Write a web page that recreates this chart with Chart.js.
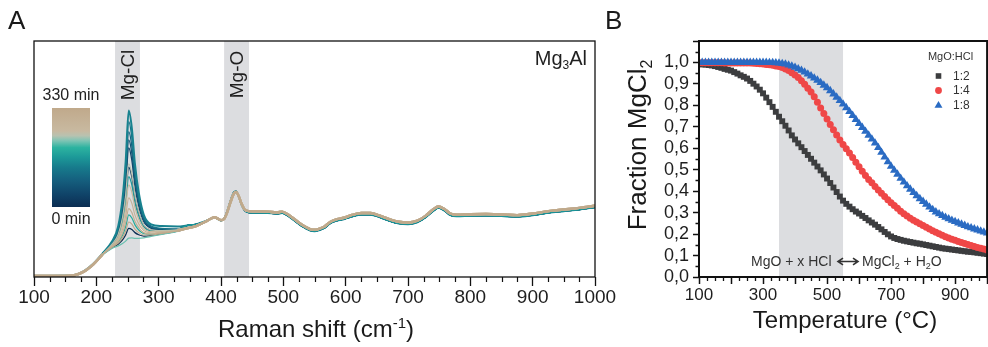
<!DOCTYPE html>
<html>
<head>
<meta charset="utf-8">
<script src="https://cdn.jsdelivr.net/npm/chart.js@4.4.1/dist/chart.umd.min.js"></script>
<style>
  html, body { margin: 0; padding: 0; background: #fff; overflow: hidden; width: 988px; height: 347px; }
  #wrapA { position: absolute; left: 0; top: 0; width: 620px; height: 347px; }
  #wrapB { position: absolute; left: 600px; top: 0; width: 392px; height: 347px; }
</style>
</head>
<body>
<div id="wrapA"><canvas id="ramanChart" width="620" height="347"></canvas></div>
<div id="wrapB"><canvas id="fractionChart" width="392" height="347"></canvas></div>
<script>
// ---------- Panel A: in-situ Raman spectra of Mg3Al ----------
// Raman shift grid (cm-1): detailed around the Mg-Cl band, then the shared part of the spectrum
const ramanHeadShift = [100, 160, 180, 195, 210, 225, 235, 242, 247, 252, 257, 262, 268, 276, 288, 305, 330];
const ramanTailShift = [345, 360, 375, 385, 390, 395, 400, 405, 410, 415, 420, 424, 428, 433, 438, 445, 460, 475, 490, 498,
  505, 515, 530, 543, 550, 558, 566, 575, 586, 597, 610, 625, 640, 655, 670, 685, 700, 715, 728, 740,
  749, 758, 768, 778, 800, 825, 850, 875, 900, 925, 950, 975, 1000];

// intensity (a.u.) above 340 cm-1: later spectra and early spectra
const tailLate = [20.6, 21.6, 23.4, 24.9, 25.3, 24.7, 24.1, 24.6, 27.5, 31.5, 35.0, 36.0, 34.5, 31.0, 28.6, 27.9, 27.8, 27.7, 27.4, 27.7,
  26.9, 25.1, 22.1, 20.3, 20.0, 20.5, 21.4, 23.3, 24.5, 25.1, 26.3, 27.1, 27.1, 26.0, 24.5, 23.4, 23.1, 23.9, 25.9, 28.6,
  29.9, 28.9, 26.9, 26.4, 26.6, 26.7, 26.5, 26.2, 26.9, 27.9, 28.6, 29.3, 30.2];
const tailEarly = [21.8, 22.3, 23.6, 24.8, 25.2, 24.5, 23.9, 24.7, 27.9, 32.0, 35.6, 36.3, 34.4, 30.6, 28.2, 27.3, 27.2, 27.1, 26.8, 27.1,
  26.3, 24.5, 21.5, 19.7, 19.4, 19.9, 20.8, 22.7, 23.9, 24.5, 25.6, 26.4, 26.4, 25.3, 23.8, 22.7, 22.4, 23.2, 25.2, 27.9,
  29.3, 28.2, 26.2, 25.7, 25.9, 26.0, 25.8, 25.5, 26.2, 27.2, 27.9, 28.6, 29.5];

// intensity (a.u.) from 100 to 330 cm-1, one array per acquisition time
const spectrum0min   = [0.4, 0.6, 2.3, 5.3, 9.5, 12.4, 13.9, 15.7, 17.8, 20.6, 20.1, 18.8, 17.9, 17.3, 17.6, 18.3, 19.4];
const spectrum20min  = [0.4, 0.6, 2.3, 5.3, 9.7, 13.7, 17.8, 24.8, 33.9, 46.5, 42.4, 33.8, 27.2, 22.0, 19.9, 19.6, 19.9];
const spectrum45min  = [0.4, 0.6, 2.3, 5.4, 9.8, 14.1, 19.1, 27.6, 38.9, 54.7, 49.4, 38.5, 30.1, 23.5, 20.6, 20.0, 20.1];
const spectrum70min  = [0.4, 0.6, 2.3, 5.4, 9.8, 14.3, 19.6, 28.8, 41.1, 58.1, 52.4, 40.5, 31.4, 24.1, 20.9, 20.2, 20.2];
const spectrum95min  = [0.4, 0.6, 2.4, 5.5, 9.9, 14.5, 20.1, 30.1, 43.2, 61.6, 55.4, 42.5, 32.6, 24.7, 21.3, 20.4, 20.3];
const spectrum120min = [0.4, 0.6, 2.4, 5.5, 9.9, 14.7, 20.7, 31.5, 45.8, 65.8, 59.0, 45.0, 34.1, 25.5, 21.6, 20.6, 20.3];
const spectrum140min = [0.5, 0.7, 2.5, 5.6, 10.0, 15.0, 21.4, 33.2, 48.7, 70.5, 63.0, 47.7, 35.8, 26.5, 22.3, 21.6, 21.4];
const spectrum165min = [0.4, 0.6, 2.3, 5.3, 9.7, 13.5, 17.2, 23.4, 31.4, 42.5, 39.0, 31.5, 25.8, 21.3, 19.5, 19.4, 19.9];
const spectrum190min = [0.4, 0.6, 2.3, 5.3, 9.5, 12.7, 14.8, 17.7, 21.3, 26.3, 25.0, 22.1, 19.9, 18.4, 18.1, 18.6, 19.5];
const spectrum215min = [0.3, 0.5, 2.2, 5.2, 9.3, 12.1, 13.2, 14.2, 15.2, 16.5, 16.6, 16.4, 16.4, 16.6, 17.2, 18.1, 19.3];
const spectrum240min = [0.4, 0.6, 2.3, 5.3, 9.7, 13.8, 18.0, 25.3, 34.7, 47.9, 43.6, 34.6, 27.7, 22.2, 20.0, 19.7, 20.0];
const spectrum260min = [0.4, 0.6, 2.3, 5.3, 9.6, 13.3, 16.7, 22.1, 29.2, 39.0, 35.9, 29.4, 24.5, 20.6, 19.2, 19.2, 19.8];
const spectrum285min = [0.4, 0.6, 2.3, 5.3, 9.6, 13.1, 15.9, 20.2, 25.8, 33.5, 31.2, 26.2, 22.5, 19.7, 18.7, 19.0, 19.7];
const spectrum305min = [0.4, 0.6, 2.3, 5.3, 9.5, 12.8, 15.2, 18.6, 23.0, 29.0, 27.3, 23.6, 20.9, 18.8, 18.3, 18.7, 19.6];
const spectrum330min = [0.4, 0.6, 2.3, 5.3, 9.5, 12.6, 14.4, 16.7, 19.5, 23.3, 22.4, 20.3, 18.8, 17.8, 17.8, 18.5, 19.5];

// drawing order: latest spectrum on top
const spectraMinutes = [330, 305, 285, 260, 240, 215, 190, 165, 140, 120, 95, 70, 45, 20, 0];
const spectraHeads = [spectrum330min, spectrum305min, spectrum285min, spectrum260min, spectrum240min, spectrum215min,
  spectrum190min, spectrum165min, spectrum140min, spectrum120min, spectrum95min, spectrum70min, spectrum45min,
  spectrum20min, spectrum0min];
const spectraTails = [tailLate, tailLate, tailLate, tailLate, tailLate, tailLate,
  tailLate, tailEarly, tailEarly, tailEarly, tailEarly, tailEarly, tailEarly,
  tailEarly, tailLate];
const maxMinutes = 330;

// shaded bands (cm-1)
const bandMgCl = [230, 270];
const bandMgO = [405, 445];

// ---------- Panel B: equilibrium fraction of MgCl2 ----------
const temperatureC = [100, 110, 120, 130, 140, 150, 160, 170, 180, 190,
  200, 210, 220, 230, 240, 250, 260, 270, 280, 290,
  300, 310, 320, 330, 340, 350, 360, 370, 380, 390,
  400, 410, 420, 430, 440, 450, 460, 470, 480, 490,
  500, 510, 520, 530, 540, 550, 560, 570, 580, 590,
  600, 610, 620, 630, 640, 650, 660, 670, 680, 690,
  700, 710, 720, 730, 740, 750, 760, 770, 780, 790,
  800, 810, 820, 830, 840, 850, 860, 870, 880, 890,
  900, 910, 920, 930, 940, 950, 960, 970, 980, 990, 1000];
const fraction1to2 = [.992, .991, .990, .988, .986, .983, .979, .975, .970, .966,
  .962, .955, .948, .940, .933, .925, .914, .901, .888, .873,
  .856, .836, .815, .793, .770, .747, .726, .705, .683, .660,
  .641, .623, .605, .587, .569, .551, .533, .515, .497, .478,
  .459, .438, .417, .396, .375, .356, .341, .328, .316, .305,
  .296, .285, .275, .264, .254, .244, .233, .222, .210, .199,
  .189, .182, .177, .173, .169, .166, .163, .160, .157, .155,
  .152, .149, .146, .143, .140, .137, .134, .132, .130, .128,
  .126, .124, .122, .120, .118, .117, .115, .113, .111, .109, .107];
const fraction1to4 = [.999, .999, .999, .999, .999, .999, .999, .999, .998, .998,
  .998, .998, .998, .998, .997, .997, .997, .996, .995, .994,
  .993, .991, .989, .987, .984, .981, .976, .970, .962, .952,
  .942, .930, .915, .898, .880, .862, .840, .815, .788, .762,
  .736, .711, .686, .662, .639, .618, .598, .578, .557, .535,
  .514, .493, .473, .455, .439, .422, .406, .390, .375, .360,
  .346, .333, .320, .307, .295, .284, .274, .265, .256, .248,
  .240, .232, .224, .216, .209, .202, .195, .188, .182, .176,
  .171, .166, .161, .156, .151, .147, .142, .138, .134, .130, .126];
const fraction1to8 = [1.000, 1.000, 1.000, 1.000, 1.000, 1.000, 1.000, 1.000, 1.000, 1.000,
  1.000, 1.000, 1.000, 1.000, 1.000, 1.000, 1.000, 1.000, 1.000, 1.000,
  1.000, 1.000, .999, .999, .998, .997, .995, .992, .988, .983,
  .977, .970, .963, .955, .946, .937, .927, .917, .906, .894,
  .882, .868, .853, .838, .822, .806, .789, .771, .753, .734,
  .715, .697, .679, .661, .643, .624, .603, .581, .559, .537,
  .516, .497, .479, .460, .442, .425, .409, .394, .379, .365,
  .352, .339, .326, .314, .303, .294, .286, .278, .271, .264,
  .258, .252, .246, .240, .234, .229, .224, .219, .214, .209, .205];
const ratioLabels = ['1:2', '1:4', '1:8'];
const bandReaction = [350, 550];

// ---------- styling ----------
const FONT = '"Liberation Sans", Arial, Helvetica, sans-serif';
const BAND = '#dcdde0';
const rampStops = [
  [0.00, '#0b2d52'], [0.135, '#10456a'], [0.27, '#155f7e'], [0.40, '#177b8c'],
  [0.50, '#1c9898'], [0.60, '#2cb3a0'], [0.67, '#7fc4b4'], [0.72, '#b8c2b0'],
  [0.77, '#c8b9a0'], [1.00, '#c0a98b']
];
function hexToRgb(h) { return [1, 3, 5].map(i => parseInt(h.slice(i, i + 2), 16)); }
function rampColor(f) {
  for (let i = 1; i < rampStops.length; i++) {
    if (f <= rampStops[i][0]) {
      const [f0, c0] = rampStops[i - 1], [f1, c1] = rampStops[i];
      const t = (f - f0) / (f1 - f0);
      const a = hexToRgb(c0), b = hexToRgb(c1);
      return 'rgb(' + a.map((v, k) => Math.round(v + (b[k] - v) * t)).join(',') + ')';
    }
  }
  return rampStops[rampStops.length - 1][1];
}

// text with sub/superscript runs
function drawRich(ctx, runs, x, y, size, align, color) {
  const small = Math.round(size * 0.62);
  ctx.fillStyle = color || '#1a1a1a';
  ctx.textAlign = 'left';
  ctx.textBaseline = 'alphabetic';
  const widths = runs.map(([t, k]) => { ctx.font = (k ? small : size) + 'px ' + FONT; return ctx.measureText(t).width; });
  const total = widths.reduce((a, b) => a + b, 0);
  let cx = align === 'center' ? x - total / 2 : align === 'right' ? x - total : x;
  runs.forEach(([t, k], i) => {
    ctx.font = (k ? small : size) + 'px ' + FONT;
    const dy = k === 'sub' ? size * 0.22 : k === 'sup' ? -size * 0.38 : 0;
    ctx.fillText(t, cx, y + dy);
    cx += widths[i];
  });
  return total;
}
function drawRotated(ctx, runs, x, y, size, color) {
  ctx.save();
  ctx.translate(x, y);
  ctx.rotate(-Math.PI / 2);
  drawRich(ctx, runs, 0, 0, size, 'center', color);
  ctx.restore();
}
function fillBand(chart, range) {
  const { ctx, chartArea, scales } = chart;
  const x0 = scales.x.getPixelForValue(range[0]);
  const x1 = scales.x.getPixelForValue(range[1]);
  ctx.save();
  ctx.fillStyle = BAND;
  ctx.fillRect(x0, chartArea.top, x1 - x0, chartArea.bottom - chartArea.top);
  ctx.restore();
}
function minorTicksX(chart, step, len, width) {
  const { ctx, chartArea, scales } = chart;
  ctx.save();
  ctx.strokeStyle = '#111';
  ctx.lineWidth = width;
  ctx.beginPath();
  for (let v = scales.x.min; v <= scales.x.max; v += step) {
    if (Math.abs(v % 100) < 1e-6) continue;
    const px = Math.round(scales.x.getPixelForValue(v)) + 0.5;
    ctx.moveTo(px, chartArea.bottom);
    ctx.lineTo(px, chartArea.bottom + len);
  }
  ctx.stroke();
  ctx.restore();
}

// ---------- Panel A chart ----------
const ramanDatasets = spectraMinutes.map((m, i) => {
  const xs = ramanHeadShift.concat(ramanTailShift);
  const ys = spectraHeads[i].concat(spectraTails[i]);
  const f = m / maxMinutes;
  const late = f > 0.7;
  return {
    label: m + ' min',
    data: xs.map((x, k) => ({ x, y: ys[k] })),
    borderColor: rampColor(f),
    borderWidth: m === 140 ? 2.0 : 1.3,
    // later spectra are drawn heavier outside the Mg-Cl band where they overlap
    segment: late ? {
      borderWidth: c => (c.p0.parsed.x >= 200 && c.p1.parsed.x <= 330 ? 1.2 : 2.4)
    } : undefined,
    pointRadius: 0,
    fill: false
  };
});

const ramanDecor = {
  id: 'ramanDecor',
  beforeDatasetsDraw(chart) {
    fillBand(chart, bandMgCl);
    fillBand(chart, bandMgO);
  },
  afterDraw(chart) {
    const { ctx, chartArea } = chart;
    // frame
    ctx.save();
    ctx.strokeStyle = '#111';
    ctx.lineWidth = 1.3;
    ctx.strokeRect(chartArea.left, chartArea.top, chartArea.right - chartArea.left, chartArea.bottom - chartArea.top);
    ctx.restore();
    minorTicksX(chart, 25, 5, 1.2);

    // band labels
    drawRotated(ctx, [['Mg-Cl', 0]], 133.5, 75, 19, '#1f1f1f');
    drawRotated(ctx, [['Mg-O', 0]], 243, 74.5, 19, '#1f1f1f');
    // sample name
    drawRich(ctx, [['Mg', 0], ['3', 'sub'], ['Al', 0]], 587, 65, 20, 'right', '#1f1f1f');

    // time colour bar
    const g = ctx.createLinearGradient(0, 207, 0, 108);
    rampStops.forEach(([p, c]) => g.addColorStop(p, c));
    ctx.fillStyle = g;
    ctx.fillRect(52, 108, 38, 99);
    ctx.fillStyle = '#222';
    ctx.font = '16px ' + FONT;
    ctx.textAlign = 'center';
    ctx.textBaseline = 'middle';
    ctx.fillText('330 min', 71, 96);
    ctx.fillText('0 min', 71, 220);

    // panel letter and axis title
    drawRich(ctx, [['A', 0]], 8, 29, 26, 'left', '#1a1a1a');
    drawRich(ctx, [['Raman shift (cm', 0], ['-1', 'sup'], [')', 0]], 316, 337, 24, 'center', '#1a1a1a');
  }
};

new Chart(document.getElementById('ramanChart'), {
  type: 'line',
  data: { datasets: ramanDatasets },
  options: {
    responsive: false,
    animation: false,
    devicePixelRatio: 1,
    layout: { padding: { left: 34, right: 25, top: 41, bottom: 0 } },
    plugins: { legend: { display: false }, tooltip: { enabled: false } },
    elements: { point: { radius: 0 }, line: { cubicInterpolationMode: 'monotone' } },
    scales: {
      x: {
        type: 'linear', min: 100, max: 1000,
        ticks: { stepSize: 100, autoSkip: false, maxRotation: 0, padding: 0, color: '#1e1e1e',
          font: { family: FONT, size: 19 }, callback: v => String(v) },
        grid: { drawOnChartArea: false, drawTicks: true, tickLength: 9, tickColor: '#111', tickWidth: 1.3 },
        border: { display: false },
        afterFit: s => { s.height = 70; }
      },
      y: { display: false, min: 0, max: 100 }
    }
  },
  plugins: [ramanDecor]
});

// ---------- Panel B chart ----------
const fractionSeries = [fraction1to8, fraction1to4, fraction1to2];
const fractionStyles = [
  { label: ratioLabels[2], color: '#2a6bc3', pointStyle: 'triangle', radius: 4.9 },
  { label: ratioLabels[1], color: '#ef4747', pointStyle: 'circle', radius: 3.5 },
  { label: ratioLabels[0], color: '#3c3d3f', pointStyle: 'rect', radius: 4.2 }
];
const fractionDatasets = fractionSeries.map((vals, i) => ({
  label: fractionStyles[i].label,
  data: temperatureC.map((t, k) => ({ x: t, y: vals[k] })),
  backgroundColor: fractionStyles[i].color,
  borderColor: fractionStyles[i].color,
  pointStyle: fractionStyles[i].pointStyle,
  pointRadius: fractionStyles[i].radius,
  pointBorderWidth: 0,
  showLine: false
}));

const fractionDecor = {
  id: 'fractionDecor',
  beforeDatasetsDraw(chart) {
    fillBand(chart, bandReaction);
  },
  afterDraw(chart) {
    const { ctx, chartArea, scales } = chart;
    ctx.save();
    ctx.strokeStyle = '#111';
    ctx.lineWidth = 2;
    ctx.strokeRect(chartArea.left, chartArea.top, chartArea.right - chartArea.left, chartArea.bottom - chartArea.top);
    ctx.restore();
    minorTicksX(chart, 25, 4, 1.3);
    // minor y ticks
    ctx.save();
    ctx.strokeStyle = '#111';
    ctx.lineWidth = 1.3;
    ctx.beginPath();
    for (let v = 0.05; v < 1.1; v += 0.1) {
      const py = Math.round(scales.y.getPixelForValue(v)) + 0.5;
      ctx.moveTo(chartArea.left, py);
      ctx.lineTo(chartArea.left - 3.5, py);
    }
    ctx.stroke();
    ctx.restore();

    // legend
    const ox = -600;
    ctx.fillStyle = '#333';
    ctx.font = '11px ' + FONT;
    ctx.textAlign = 'center';
    ctx.textBaseline = 'middle';
    ctx.fillText('MgO:HCl', 950.5 + ox, 57);
    const rows = [[fractionStyles[2], 76], [fractionStyles[1], 90.5], [fractionStyles[0], 105.5]];
    rows.forEach(([st, y]) => {
      const x = 938.5 + ox;
      ctx.fillStyle = st.color;
      ctx.beginPath();
      if (st.pointStyle === 'rect') {
        ctx.rect(x - 2.8, y - 2.8, 5.6, 5.6);
      } else if (st.pointStyle === 'circle') {
        ctx.arc(x, y, 3.4, 0, Math.PI * 2);
      } else {
        const r = 4.6;
        ctx.moveTo(x, y - r);
        ctx.lineTo(x + 0.866 * r, y + 0.5 * r);
        ctx.lineTo(x - 0.866 * r, y + 0.5 * r);
        ctx.closePath();
      }
      ctx.fill();
      ctx.fillStyle = '#333';
      ctx.font = '12px ' + FONT;
      ctx.textAlign = 'left';
      ctx.fillText(st.label, 953 + ox, y + 0.5);
    });

    // reaction
    drawRich(ctx, [['MgO + x HCl', 0]], 751 + ox, 266, 14, 'left', '#333');
    drawRich(ctx, [['MgCl', 0], ['2', 'sub'], [' + H', 0], ['2', 'sub'], ['O', 0]], 862 + ox, 266, 14, 'left', '#333');
    ctx.save();
    ctx.strokeStyle = '#333';
    ctx.lineWidth = 1.6;
    const ax0 = 838 + ox, ax1 = 858 + ox, ay = 261.5;
    ctx.beginPath();
    ctx.moveTo(ax0, ay); ctx.lineTo(ax1, ay);
    ctx.moveTo(ax0 + 5, ay - 3.3); ctx.lineTo(ax0, ay); ctx.lineTo(ax0 + 5, ay + 3.3);
    ctx.moveTo(ax1 - 5, ay - 3.3); ctx.lineTo(ax1, ay); ctx.lineTo(ax1 - 5, ay + 3.3);
    ctx.stroke();
    ctx.restore();

    // panel letter and axis titles
    drawRich(ctx, [['B', 0]], 605 + ox, 29, 26, 'left', '#1a1a1a');
    drawRich(ctx, [['Temperature (°C)', 0]], 845 + ox, 328, 24, 'center', '#1a1a1a');
    drawRotated(ctx, [['Fraction MgCl', 0], ['2', 'sub']], 646 + ox, 145, 26, '#1a1a1a');
  }
};

new Chart(document.getElementById('fractionChart'), {
  type: 'scatter',
  data: { datasets: fractionDatasets },
  options: {
    responsive: false,
    animation: false,
    devicePixelRatio: 1,
    layout: { padding: { left: 0, right: 2, top: 41, bottom: 0 } },
    plugins: { legend: { display: false }, tooltip: { enabled: false } },
    scales: {
      x: {
        type: 'linear', min: 100, max: 1000,
        ticks: { stepSize: 100, autoSkip: false, maxRotation: 0, padding: 1, color: '#1e1e1e',
          font: { family: FONT, size: 17 }, callback: v => ((v - 100) % 200 === 0 ? String(v) : '') },
        grid: { drawOnChartArea: false, drawTicks: true, tickLength: 7, tickColor: '#111', tickWidth: 1.5 },
        border: { display: false },
        afterFit: s => { s.height = 70; }
      },
      y: {
        type: 'linear', min: 0, max: 1.1,
        ticks: { stepSize: 0.1, autoSkip: false, padding: 4, color: '#1e1e1e',
          font: { family: FONT, size: 18 }, callback: v => (v > 1.05 ? '' : v.toFixed(1).replace('.', ',')) },
        grid: { drawOnChartArea: false, drawTicks: true, tickLength: 6, tickColor: '#111', tickWidth: 1.5 },
        border: { display: false },
        afterFit: s => { s.width = 99; }
      }
    }
  },
  plugins: [fractionDecor]
});
</script>
</body>
</html>
